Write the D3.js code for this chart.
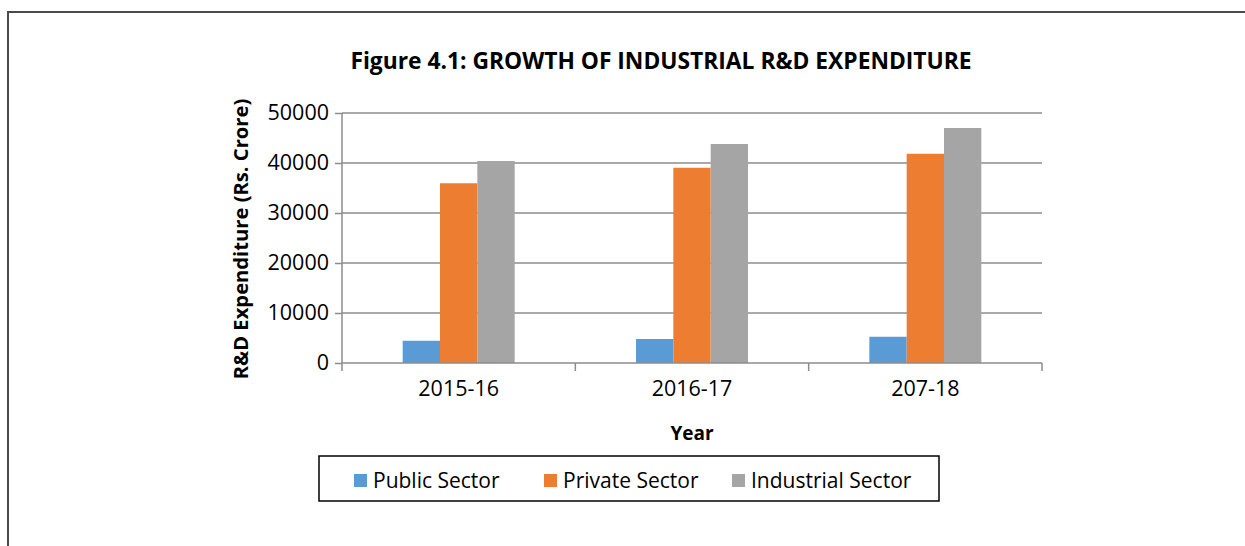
<!DOCTYPE html>
<html>
<head>
<meta charset="utf-8">
<script src="https://cdn.jsdelivr.net/npm/d3@7"></script>
<style>
  body { margin: 0; background: #fff; }
  svg { font-family: "Open Sans", Lato, sans-serif; }
</style>
</head>
<body>
<script>
(() => {
    // data
    var years = ["2015-16", "2016-17", "207-18"];
    var seriesNames = ["Public Sector", "Private Sector", "Industrial Sector"];
    var publicSector = [4450, 4800, 5250];
    var privateSector = [35950, 39050, 41850];
    var industrialSector = [40400, 43800, 47000];
    var yTicks = [0, 10000, 20000, 30000, 40000, 50000];
    var colors = ["#5B9BD5", "#ED7D31", "#A5A5A5"];

    var W = 1245, H = 546;
    var margin = { top: 113, left: 342, right: 203, bottom: 183 };
    var w = W - margin.left - margin.right,
        h = H - margin.top - margin.bottom;

    var svg = d3.select("body").append("svg")
        .attr("width", W).attr("height", H);

    // outer frame (cut off at right and bottom)
    svg.append("path")
        .attr("d", "M8,560 L8,12 L1260,12")
        .attr("fill", "none").attr("stroke", "#4a4a4a").attr("stroke-width", 2);

    svg.append("text")
        .attr("x", 661).attr("y", 69)
        .attr("text-anchor", "middle")
        .attr("font-weight", "bold").attr("font-size", 22.8)
        .text("Figure 4.1: GROWTH OF INDUSTRIAL R&D EXPENDITURE");

    var table = years.map((y, i) => ({
        year: y,
        vals: [publicSector[i], privateSector[i], industrialSector[i]]
    }));

    var g = svg.append("g").attr("transform", "translate(" + [margin.left, margin.top] + ")");

    var x = d3.scaleBand().domain(years).range([0, w]).padding(0);
    var y = d3.scaleLinear().domain([0, 50000]).range([h, 0]);
    var bw = x.bandwidth() * 0.16;
    var xs = d3.scaleBand().domain(d3.range(3))
        .range([x.bandwidth() / 2 - bw * 1.5, x.bandwidth() / 2 + bw * 1.5]);

    // gridlines
    g.selectAll(".grid").data(yTicks.slice(1)).enter()
        .append("line").attr("class", "grid")
        .attr("x1", 0).attr("x2", w)
        .attr("y1", d => y(d)).attr("y2", d => y(d))
        .attr("stroke", "#8c8c8c").attr("stroke-width", 1.5);

    var groups = g.selectAll(".grp").data(table).enter()
        .append("g").attr("class", "grp")
        .attr("transform", d => "translate(" + [x(d.year), 0] + ")");

    groups.selectAll("rect").data(d => d.vals).enter()
        .append("rect")
        .attr("x", (d, i) => xs(i))
        .attr("width", xs.bandwidth())
        .attr("y", d => y(d))
        .attr("height", d => y(0) - y(d))
        .attr("fill", (d, i) => colors[i]);

    // y axis
    var yAxis = g.append("g")
        .call(d3.axisLeft(y).tickValues(yTicks).tickSize(7).tickPadding(6).tickFormat(d3.format("d")));
    yAxis.select(".domain").attr("stroke", "#8c8c8c").attr("stroke-width", 1.5).attr("d", "M0," + h + "V0");
    yAxis.selectAll(".tick line").attr("stroke", "#8c8c8c").attr("stroke-width", 1.5);
    yAxis.selectAll("text").attr("font-size", 21.5).attr("fill", "#000")
        .attr("font-family", "'Open Sans', sans-serif");

    // x axis
    var xAxis = g.append("g").attr("transform", "translate(0," + h + ")")
        .call(d3.axisBottom(x).tickSize(0).tickPadding(18));
    xAxis.select(".domain").remove();
    xAxis.append("line").attr("x1", 0).attr("x2", w).attr("stroke", "#8c8c8c").attr("stroke-width", 1.5);
    xAxis.selectAll(".sep").data(d3.range(years.length + 1)).enter()
        .append("line").attr("class", "sep")
        .attr("x1", i => i * x.step()).attr("x2", i => i * x.step())
        .attr("y1", 0).attr("y2", 8)
        .attr("stroke", "#8c8c8c").attr("stroke-width", 1.5);
    xAxis.selectAll(".tick text").attr("font-size", 21.5).attr("fill", "#000")
        .attr("font-family", "'Open Sans', sans-serif");

    // axis titles
    svg.append("text")
        .attr("transform", "translate(248,239) rotate(-90)")
        .attr("text-anchor", "middle")
        .attr("font-weight", "bold").attr("font-size", 20.2)
        .text("R&D Expenditure (Rs. Crore)");

    svg.append("text")
        .attr("x", margin.left + w / 2).attr("y", 440)
        .attr("text-anchor", "middle")
        .attr("font-weight", "bold").attr("font-size", 19)
        .text("Year");

    // legend
    svg.append("rect")
        .attr("x", 319).attr("y", 456).attr("width", 620).attr("height", 45)
        .attr("fill", "#fff").attr("stroke", "#000").attr("stroke-width", 1.5);

    var legendX = [354, 544, 732];
    var lg = svg.selectAll(".leg").data(seriesNames).enter()
        .append("g").attr("class", "leg")
        .attr("transform", (d, i) => "translate(" + [legendX[i], 474] + ")");
    lg.append("rect").attr("width", 13).attr("height", 13)
        .attr("fill", (d, i) => colors[i]);
    lg.append("text").attr("x", 19).attr("y", 14)
        .attr("font-size", 21).text(d => d);
})()
</script>
</body>
</html>
